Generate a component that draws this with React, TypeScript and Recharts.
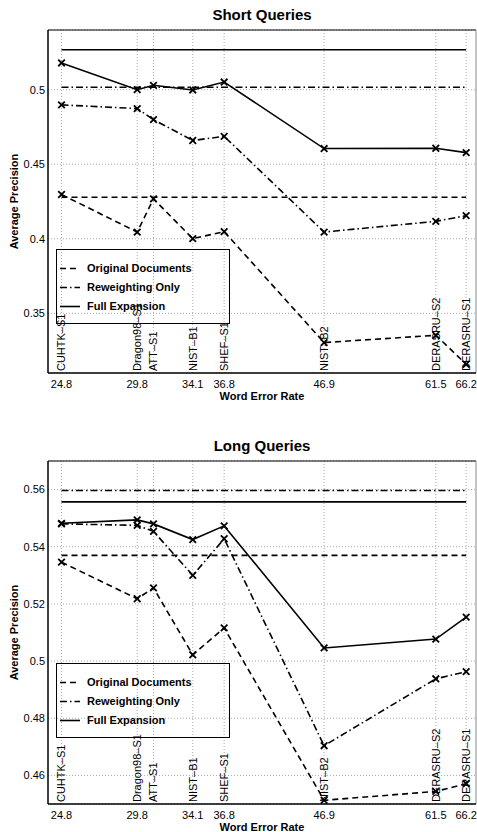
import { CartesianGrid, Legend, Line, LineChart, ReferenceLine, XAxis, YAxis } from 'recharts';

// systems on the x axis, placed by their word error rate
const wer = [24.8, 29.8, 31.0, 34.1, 36.8, 46.9, 61.5, 66.2];
const systems = ['CUHTK–S1', 'Dragon98–S1', 'ATT–S1', 'NIST–B1', 'SHEF–S1', 'NIST–B2', 'DERASRU–S2', 'DERASRU–S1'];
const werTickLabels = ['24.8', '29.8', '', '34.1', '36.8', '46.9', '61.5', '66.2'];

// short queries
const shortOriginal = [0.4297, 0.4045, 0.4268, 0.4001, 0.4048, 0.3304, 0.3353, 0.3159];
const shortReweight = [0.4898, 0.4873, 0.4799, 0.4659, 0.4687, 0.4045, 0.4117, 0.4155];
const shortFull = [0.5179, 0.5000, 0.5029, 0.4998, 0.5051, 0.4605, 0.4607, 0.4578];
const shortBaselines = [0.4279, 0.5016, 0.5268]; // original, reweighting, full on reference transcripts
const shortYTicks = [0.35, 0.4, 0.45, 0.5];

// long queries
const longOriginal = [0.5346, 0.5218, 0.5256, 0.5022, 0.5116, 0.4513, 0.4544, 0.4571];
const longReweight = [0.5480, 0.5475, 0.5454, 0.5300, 0.5428, 0.4704, 0.4938, 0.4963];
const longFull = [0.5482, 0.5494, 0.5480, 0.5425, 0.5473, 0.5046, 0.5077, 0.5154];
const longBaselines = [0.5370, 0.5597, 0.5557];
const longYTicks = [0.46, 0.48, 0.5, 0.52, 0.54, 0.56];

const FONT = '"Liberation Sans", Arial, Helvetica, sans-serif';
const X_DOMAIN: [number, number] = [24, 67.8];
const GRID = '#aaaaaa';

const SERIES = [
  { key: 'original', base: 'baseOriginal', name: 'Original Documents', dash: '6 4' },
  { key: 'reweight', base: 'baseReweight', name: 'Reweighting Only', dash: '7 3 1.5 3' },
  { key: 'full', base: 'baseFull', name: 'Full Expansion', dash: undefined as string | undefined },
];

function buildRows(orig: number[], rew: number[], full: number[], base: number[]) {
  return wer.map((w, i) => ({
    wer: w,
    original: orig[i],
    reweight: rew[i],
    full: full[i],
    baseOriginal: base[0],
    baseReweight: base[1],
    baseFull: base[2],
  }));
}

const shortRows = buildRows(shortOriginal, shortReweight, shortFull, shortBaselines);
const longRows = buildRows(longOriginal, longReweight, longFull, longBaselines);

function Cross({ cx, cy }: any) {
  if (cx == null || cy == null) return null;
  const r = 3.3;
  return (
    <path
      d={`M${cx - r},${cy - r}L${cx + r},${cy + r}M${cx - r},${cy + r}L${cx + r},${cy - r}`}
      stroke="#000"
      strokeWidth={1.8}
      fill="none"
    />
  );
}

function systemLabel(text: string) {
  return (props: any) => {
    const vb = props.viewBox ?? {};
    const x = vb.x ?? 0;
    const y = (vb.y ?? 0) + (vb.height ?? 0) - 2;
    return (
      <text x={x} y={y} dy="0.36em" transform={`rotate(-90 ${x} ${y})`} fontSize={11} fill="#000" fontFamily={FONT}>
        {text}
      </text>
    );
  };
}

function LegendBox() {
  return (
    <div
      style={{
        width: 174,
        height: 75,
        boxSizing: 'border-box',
        border: '1px solid #000',
        paddingTop: 8.5,
        fontFamily: FONT,
      }}
    >
      {SERIES.map(s => (
        <div key={s.key} style={{ display: 'flex', alignItems: 'center', height: 19 }}>
          <svg width={30} height={19} style={{ display: 'block' }}>
            <line x1={3} x2={23} y1={9.5} y2={9.5} stroke="#000" strokeWidth={1.6} strokeDasharray={s.dash} />
          </svg>
          <span style={{ fontSize: 11, fontWeight: 'bold', lineHeight: '19px', color: '#000', whiteSpace: 'nowrap' }}>
            {s.name}
          </span>
        </div>
      ))}
    </div>
  );
}

interface ChartProps {
  title: string;
  top: number;
  rows: ReturnType<typeof buildRows>;
  yDomain: [number, number];
  yTicks: number[];
  legendTop: number;
}

function PrecisionChart({ title, top, rows, yDomain, yTicks, legendTop }: ChartProps) {
  return (
    <div style={{ position: 'absolute', left: 0, top, width: 477, height: 401 }}>
      <div
        style={{
          position: 'absolute',
          left: 48,
          width: 428,
          top: 5,
          textAlign: 'center',
          fontWeight: 'bold',
          fontSize: 15,
          lineHeight: '20px',
          color: '#000',
        }}
      >
        {title}
      </div>
      <LineChart width={477} height={401} data={rows} margin={{ top: 30, right: 1, bottom: 0, left: 0 }}>
        <CartesianGrid vertical={false} stroke={GRID} strokeDasharray="1 2" />
        {wer.map((w, i) => (
          <ReferenceLine key={systems[i]} x={w} stroke={GRID} strokeDasharray="1 2" label={systemLabel(systems[i])} />
        ))}
        <ReferenceLine y={yDomain[1]} stroke="#000" strokeWidth={1.2} />
        <ReferenceLine x={X_DOMAIN[1]} stroke="#888" />
        <XAxis
          dataKey="wer"
          type="number"
          scale="log"
          domain={X_DOMAIN}
          ticks={wer}
          interval={0}
          allowDataOverflow
          height={28}
          tickLine={false}
          tickSize={0}
          tickMargin={7}
          axisLine={{ stroke: '#000', strokeWidth: 1.5 }}
          tick={{ fill: '#000', fontSize: 11, fontFamily: FONT }}
          tickFormatter={(v: number) => werTickLabels[wer.indexOf(v)] ?? ''}
          label={{
            content: ({ viewBox }: any) => (
              <text
                x={(viewBox?.x ?? 0) + (viewBox?.width ?? 0) / 2}
                y={(viewBox?.y ?? 0) + 27}
                textAnchor="middle"
                fontSize={11}
                fontWeight="bold"
                fontFamily={FONT}
                fill="#000"
              >
                Word Error Rate
              </text>
            ),
          }}
        />
        <YAxis
          type="number"
          domain={yDomain}
          ticks={yTicks}
          allowDataOverflow
          width={48}
          tickLine={false}
          tickSize={0}
          tickMargin={3}
          axisLine={{ stroke: '#000', strokeWidth: 1.5 }}
          tick={{ fill: '#000', fontSize: 11, fontFamily: FONT }}
          label={{
            content: ({ viewBox }: any) => {
              const cy = (viewBox?.y ?? 0) + (viewBox?.height ?? 0) / 2;
              return (
                <text
                  x={14}
                  y={cy}
                  dy="0.36em"
                  transform={`rotate(-90 14 ${cy})`}
                  textAnchor="middle"
                  fontSize={11}
                  fontWeight="bold"
                  fontFamily={FONT}
                  fill="#000"
                >
                  Average Precision
                </text>
              );
            },
          }}
        />
        {SERIES.map(s => (
          <Line
            key={s.base}
            dataKey={s.base}
            type="linear"
            stroke="#000"
            strokeWidth={1.6}
            strokeDasharray={s.dash}
            dot={false}
            activeDot={false}
            legendType="none"
            isAnimationActive={false}
          />
        ))}
        {SERIES.map(s => (
          <Line
            key={s.key}
            dataKey={s.key}
            name={s.name}
            type="linear"
            stroke="#000"
            strokeWidth={1.6}
            strokeDasharray={s.dash}
            dot={<Cross />}
            activeDot={false}
            isAnimationActive={false}
          />
        ))}
        <Legend
          layout="vertical"
          align="center"
          verticalAlign="middle"
          wrapperStyle={{ left: 56, top: legendTop, width: 174, height: 75 }}
          content={() => <LegendBox />}
        />
      </LineChart>
    </div>
  );
}

export default function App() {
  return (
    <div style={{ position: 'absolute', left: 0, top: 0, width: 477, height: 832, background: '#fff', fontFamily: FONT }}>
      <PrecisionChart title="Short Queries" top={0} rows={shortRows} yDomain={[0.31, 0.54]} yTicks={shortYTicks} legendTop={249} />
      <PrecisionChart title="Long Queries" top={431} rows={longRows} yDomain={[0.45, 0.57]} yTicks={longYTicks} legendTop={232} />
    </div>
  );
}
